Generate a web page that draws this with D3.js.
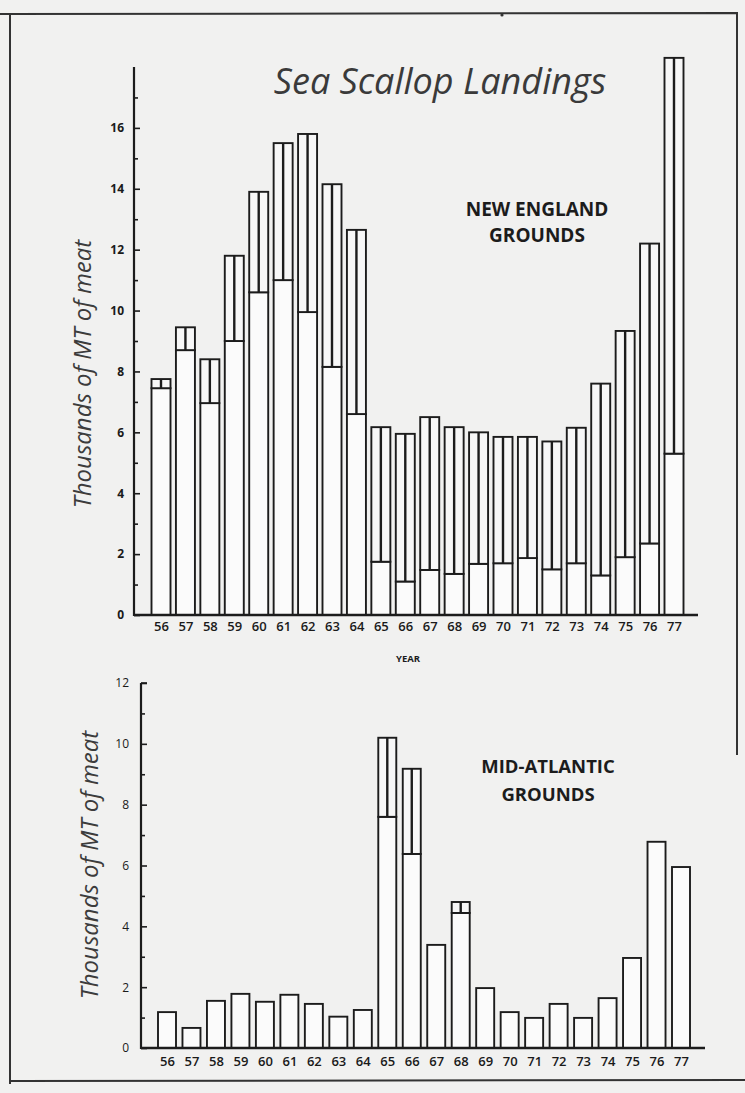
<!DOCTYPE html>
<html>
<head>
<meta charset="utf-8">
<script src="https://cdn.jsdelivr.net/npm/d3@7"></script>
<style>
  body { margin: 0; background: #f1f1f0; }
  svg { display: block; }
  .tick text { font-family: "Open Sans", sans-serif; fill: #1a1a1a; }
</style>
</head>
<body>
<div id="chart"></div>
<script>
// years on both panels
var years = ["56", "57", "58", "59", "60", "61", "62", "63", "64", "65", "66",
             "67", "68", "69", "70", "71", "72", "73", "74", "75", "76", "77"];

// New England grounds: bar total and the lower (plain) part
var neTotal = [7.75, 9.45, 8.4, 11.8, 13.9, 15.5, 15.8, 14.15, 12.65, 6.17, 5.95,
               6.5, 6.17, 6.0, 5.85, 5.85, 5.7, 6.15, 7.6, 9.33, 12.2, 18.3];
var neLower = [7.45, 8.7, 6.96, 9.0, 10.6, 11.0, 9.95, 8.15, 6.6, 1.75, 1.1,
               1.48, 1.35, 1.68, 1.7, 1.87, 1.5, 1.7, 1.3, 1.9, 2.35, 5.3];

// Mid-Atlantic grounds
var maTotal = [1.18, 0.66, 1.55, 1.78, 1.52, 1.75, 1.45, 1.03, 1.25, 10.2, 9.18,
               3.39, 4.8, 1.97, 1.18, 0.99, 1.45, 0.99, 1.64, 2.96, 6.78, 5.95];
var maLower = [1.18, 0.66, 1.55, 1.78, 1.52, 1.75, 1.45, 1.03, 1.25, 7.6, 6.38,
               3.39, 4.44, 1.97, 1.18, 0.99, 1.45, 0.99, 1.64, 2.96, 6.78, 5.95];

var neTicks = [0, 2, 4, 6, 8, 10, 12, 14, 16];
var maTicks = [0, 2, 4, 6, 8, 10, 12];

var ink = "#1c1c1c";

var svg = d3.select("#chart")
	.append("svg")
		.attr("width", 745)
		.attr("height", 1093)
		.attr("viewBox", [0, 0, 745, 1093]);

// paper frame
svg.append("path")
	.attr("d", "M0,14 L737,13 L737,755 M10,14 L10,1084 M10,1081 L745,1080")
	.attr("fill", "none")
	.attr("stroke", "#333")
	.attr("stroke-width", 2);
svg.append("circle").attr("cx", 502).attr("cy", 15).attr("r", 1.6).attr("fill", "#333");

function panel(cfg) {
	var g = svg.append("g");
	var x = d3.scalePoint().domain(years).range([cfg.x0, cfg.x1]);
	var y = d3.scaleLinear().domain([0, cfg.max]).range([cfg.base, cfg.top]);
	var w = cfg.barW;

	var rows = years.map(function(d, i) {
		return { year: d, total: cfg.total[i], lower: cfg.lower[i] };
	});

	// lower part
	g.selectAll(".low")
		.data(rows)
		.join("rect")
		.attr("class", "low")
		.attr("x", d => x(d.year) - w / 2)
		.attr("width", w)
		.attr("y", d => y(d.lower))
		.attr("height", d => y(0) - y(d.lower))
		.attr("fill", "#fbfbfb")
		.attr("stroke", ink)
		.attr("stroke-width", 1.9);

	// upper part, with the centre line
	var up = rows.filter(d => d.total > d.lower);
	g.selectAll(".up")
		.data(up)
		.join("rect")
		.attr("class", "up")
		.attr("x", d => x(d.year) - w / 2)
		.attr("width", w)
		.attr("y", d => y(d.total))
		.attr("height", d => y(d.lower) - y(d.total))
		.attr("fill", "#f7f7f7")
		.attr("stroke", ink)
		.attr("stroke-width", 1.9);
	g.selectAll(".mid")
		.data(up)
		.join("line")
		.attr("class", "mid")
		.attr("x1", d => x(d.year))
		.attr("x2", d => x(d.year))
		.attr("y1", d => y(d.total))
		.attr("y2", d => y(d.lower))
		.attr("stroke", ink)
		.attr("stroke-width", 2.4);

	// y axis, ticks pointing inward
	var minor = d3.range(1, cfg.max, 2);
	g.append("g")
		.attr("transform", "translate(" + cfg.ax + ",0)")
		.call(d3.axisLeft(y).tickValues(minor).tickSizeInner(-4).tickSizeOuter(0).tickFormat(""))
		.call(a => a.select(".domain").remove())
		.selectAll("line").attr("stroke", ink).attr("stroke-width", 1.6);
	var ya = g.append("g")
		.attr("transform", "translate(" + cfg.ax + ",0)")
		.call(d3.axisLeft(y).tickValues(cfg.ticks).tickSizeInner(-6).tickSizeOuter(0).tickPadding(cfg.pad));
	ya.select(".domain").attr("stroke", ink).attr("stroke-width", 2.2)
		.attr("d", "M0," + y(cfg.max) + "V" + (y(0) + 1));
	ya.selectAll("line").attr("stroke", ink).attr("stroke-width", 1.6);
	ya.selectAll("text").style("font-size", "12px").style("font-weight", cfg.yWeight);
	if (cfg.topTick) {
		ya.append("line").attr("x1", 0).attr("x2", 6).attr("y1", y(cfg.max)).attr("y2", y(cfg.max))
			.attr("stroke", ink).attr("stroke-width", 1.6);
	}

	// x axis
	g.append("line")
		.attr("x1", cfg.ax).attr("x2", cfg.xEnd)
		.attr("y1", y(0)).attr("y2", y(0))
		.attr("stroke", ink).attr("stroke-width", 2.4);
	var xa = g.append("g")
		.attr("transform", "translate(0," + y(0) + ")")
		.call(d3.axisBottom(x).tickSize(0).tickPadding(cfg.xPad));
	xa.select(".domain").remove();
	xa.selectAll("text").style("font-size", "13px").style("font-weight", "600");

	// y title
	g.append("text")
		.attr("transform", "translate(" + cfg.titleX + "," + cfg.titleY + ") rotate(-90)")
		.attr("text-anchor", "middle")
		.style("font-family", "'Open Sans', sans-serif")
		.style("font-style", "italic")
		.style("font-size", "24px")
		.attr("fill", "#3c3c3c")
		.text("Thousands of MT of meat");

	// grounds label
	g.append("text")
		.attr("text-anchor", "middle")
		.style("font-family", "'Open Sans', sans-serif")
		.style("font-weight", "bold")
		.style("font-size", cfg.labelSize)
		.attr("fill", ink)
		.selectAll("tspan")
		.data(cfg.label)
		.join("tspan")
		.attr("x", cfg.labelX)
		.attr("y", (d, i) => cfg.labelY + i * cfg.labelGap)
		.text(d => d);
}

panel({
	total: neTotal, lower: neLower, ticks: neTicks, max: 18,
	x0: 161, x1: 674, barW: 19, ax: 134, xEnd: 698,
	base: 615, top: 67, pad: 10, xPad: 7, topTick: false, yWeight: "bold",
	titleX: 91, titleY: 374,
	label: ["NEW ENGLAND", "GROUNDS"], labelX: 537, labelY: 216, labelGap: 26, labelSize: "19px"
});

panel({
	total: maTotal, lower: maLower, ticks: maTicks, max: 12,
	x0: 167, x1: 681, barW: 18, ax: 141, xEnd: 705,
	base: 1048, top: 683, pad: 12, xPad: 9, topTick: true, yWeight: "normal",
	titleX: 98, titleY: 865,
	label: ["MID-ATLANTIC", "GROUNDS"], labelX: 548, labelY: 773, labelGap: 28, labelSize: "18.5px"
});

// chart title
svg.append("text")
	.attr("x", 440)
	.attr("y", 94)
	.attr("text-anchor", "middle")
	.style("font-family", "'Open Sans', sans-serif")
	.style("font-style", "italic")
	.style("font-size", "36px")
	.attr("fill", "#3a3a3a")
	.text("Sea Scallop Landings");

svg.append("text")
	.attr("x", 408)
	.attr("y", 662)
	.attr("text-anchor", "middle")
	.style("font-family", "'Open Sans', sans-serif")
	.style("font-weight", "bold")
	.style("font-size", "9.5px")
	.attr("fill", ink)
	.text("YEAR");
</script>
</body>
</html>
